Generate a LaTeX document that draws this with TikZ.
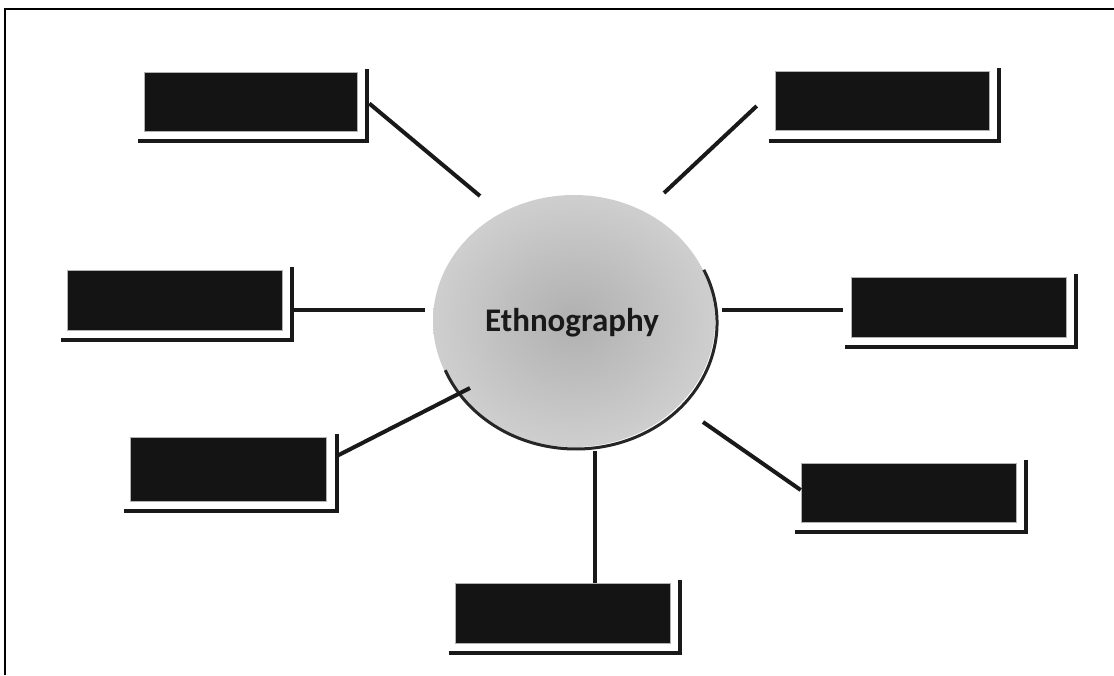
\documentclass[tikz,border=0pt]{standalone}
\usepackage{fontspec}
\newfontfamily\calib{Carlito}
\usetikzlibrary{shapes.geometric}
\tikzset{
  box/.style={draw=gray!60, line width=0.6pt, fill=black!92, minimum width=214pt, minimum height=59pt, inner sep=0pt},
  conn/.style={line width=4pt, black!90},
  shadowline/.style={line width=3.8pt, black!90},
  frame/.style={line width=2.5pt, black},
}
\newcommand\boxshadow[1]{%
  \draw[shadowline] ([xshift=10pt,yshift=3pt]#1.north east) -- ([xshift=10pt,yshift=-10pt]#1.south east) -- ([xshift=-6pt,yshift=-10pt]#1.south west);}
\begin{document}
\begin{tikzpicture}[x=1pt,y=1pt]
\useasboundingbox (0,0) rectangle (1114,-675);
\fill[white] (0,0) rectangle (1114,-675);
% frame (top and left visible)
\coordinate (fa) at (5,-675);
\coordinate (fb) at (5,-9);
\coordinate (fc) at (1114,-9);
\draw[frame] (fa) -- (fb) -- (fc);
% central ellipse
\node[ellipse, minimum width=282pt, minimum height=252pt, inner sep=0pt,
      shading=radial, inner color=gray!62, outer color=gray!38] (eth) at (574,-321) {};
\draw[line width=3pt, black!85] ([xshift=2pt,yshift=-2pt]eth.center) ++(25:141pt and 126pt) arc[start angle=25, end angle=-158, x radius=141pt, y radius=126pt];
\node[font=\calib\bfseries\fontsize{33}{38}\selectfont, text=black!90] (ethl) at (572,-323) {Ethnography};
% boxes
\node[box, minimum width=213pt] (tl) at (250.5,-101.5) {};
\node[box] (tr) at (882,-101) {};
\node[box, minimum width=215pt, minimum height=60pt] (ml) at (174.5,-300) {};
\node[box, minimum width=215pt, minimum height=60pt] (mr) at (958.5,-307) {};
\node[box, minimum width=196pt, minimum height=64pt] (bl) at (228.5,-469) {};
\node[box, minimum width=215pt, minimum height=60pt] (b) at (562.5,-613) {};
\node[box, minimum width=215pt] (br) at (908.5,-492.5) {};
\foreach \n in {tl,tr,ml,mr,bl,b,br}{\boxshadow{\n}}
% connector ends near the circle
\coordinate (ctl) at (480,-196);
\coordinate (ctr) at (664,-193);
\coordinate (cml) at (425,-310);
\coordinate (cmr) at (722,-310);
\coordinate (cbl) at (470,-388);
\coordinate (cb) at (595,-451);
\coordinate (cbr) at (703,-422);
% connectors
\draw[conn] ([xshift=12pt,yshift=-2pt]tl.east) -- (ctl);
\draw[conn] ([xshift=-18pt,yshift=-5pt]tr.west) -- (ctr);
\draw[conn] ([xshift=10pt,yshift=-10pt]ml.east) -- (cml);
\draw[conn] ([xshift=-8pt,yshift=-3pt]mr.west) -- (cmr);
\draw[conn] ([xshift=10pt,yshift=13pt]bl.east) -- (cbl);
\draw[conn] ([xshift=32.5pt]b.north) -- (cb);
\draw[conn] ([yshift=2.5pt]br.west) -- (cbr);
\end{tikzpicture}
\end{document}
